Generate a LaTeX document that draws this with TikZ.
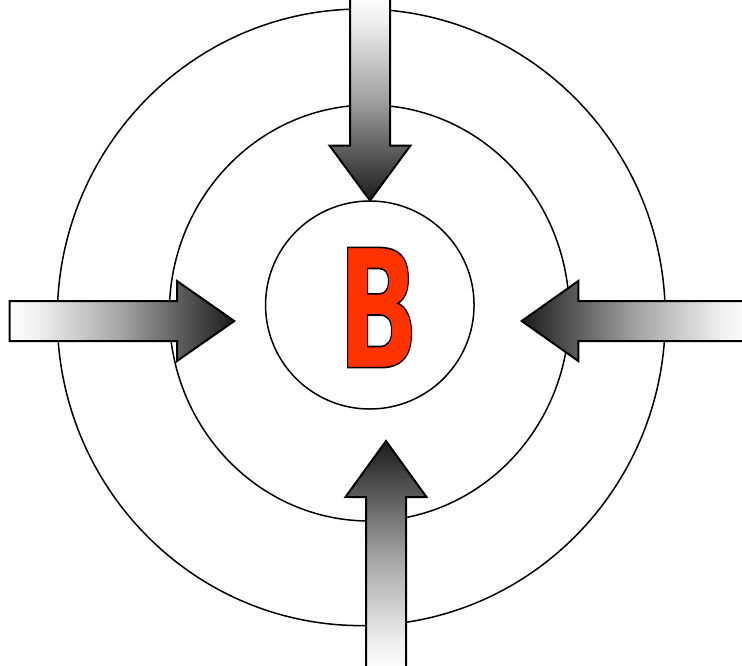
\documentclass[tikz,border=0pt]{standalone}
\usepackage{fontspec}
\newfontfamily\bfont{DejaVu Sans}
\usetikzlibrary{shapes.geometric}
\definecolor{bred}{HTML}{FF3300}
\definecolor{gA}{gray}{0.93}
\definecolor{gB}{gray}{0.64}
\definecolor{gC}{gray}{0.37}
\definecolor{gD}{gray}{0.11}
\pgfdeclarehorizontalshading{faderight}{100bp}{color(0bp)=(white); color(25bp)=(white); color(32bp)=(gA); color(50bp)=(gB); color(62.5bp)=(gC); color(75bp)=(gD); color(100bp)=(gD)}
\pgfdeclarehorizontalshading{fadeleft}{100bp}{color(0bp)=(gD); color(25bp)=(gD); color(37.5bp)=(gC); color(50bp)=(gB); color(68bp)=(gA); color(75bp)=(white); color(100bp)=(white)}
\pgfdeclareverticalshading{fadeup}{100bp}{color(0bp)=(white); color(25bp)=(white); color(32bp)=(gA); color(50bp)=(gB); color(62.5bp)=(gC); color(75bp)=(gD); color(100bp)=(gD)}
\pgfdeclareverticalshading{fadedown}{100bp}{color(0bp)=(gD); color(25bp)=(gD); color(37.5bp)=(gC); color(50bp)=(gB); color(68bp)=(gA); color(75bp)=(white); color(100bp)=(white)}
\newcommand{\outlinedB}[1]{{\color{bred}\special{pdf:literal direct 2 Tr 0 0 0 RG 1.6 w}#1\special{pdf:literal direct 0 Tr}}}
\tikzset{
  ring/.style={draw=black, line width=1.5pt, ellipse, inner sep=0pt, outer sep=0pt},
  bigarrow/.style={draw=black, line width=2pt, line join=miter}
}
\begin{document}
\begin{tikzpicture}[x=1pt,y=-1pt]
\useasboundingbox (0,0) rectangle (742,665);
\clip (0,0) rectangle (742,665);
% rings
\node[ring, minimum width=608pt, minimum height=616.6pt] (outer) at (361.3,317.3) {};
\node[ring, minimum width=400pt, minimum height=416pt] (middle) at (369.3,313) {};
\node[ring, minimum width=208.5pt, minimum height=208pt] (inner) at (369.8,305) {};
% letter
\node[inner sep=0pt, xscale=0.645] (b) at (378.5,307.5)
  {\bfont\bfseries\fontsize{165}{165}\selectfont\outlinedB{B}};
% arrows
\path[bigarrow, shading=fadedown]
  (350,-6) -- (350,145.5) -- (329.5,145.5) -- (370,200.5) -- (410.5,145.5) -- (390,145.5) -- (390,-6) -- cycle;
\path[bigarrow, shading=faderight]
  (9.5,301) -- (177,301) -- (177,281) -- (234.3,321) -- (177,361) -- (177,341) -- (9.5,341) -- cycle;
\path[bigarrow, shading=fadeleft]
  (750,301) -- (578.3,301) -- (578.3,281) -- (521.7,321) -- (578.3,361) -- (578.3,341) -- (750,341) -- cycle;
\path[bigarrow, shading=fadeup]
  (366,672) -- (366,497) -- (345.5,497) -- (386,441) -- (426.5,497) -- (406,497) -- (406,672) -- cycle;
\end{tikzpicture}
\end{document}
